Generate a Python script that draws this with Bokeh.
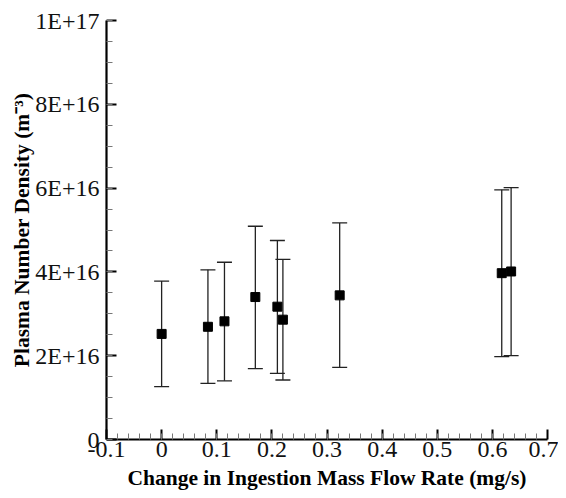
from bokeh.plotting import figure
from bokeh.models import ColumnDataSource, Whisker, TeeHead, Range1d, FixedTicker
from bokeh.embed import file_html
from bokeh.resources import INLINE

# data (flow rate change mg/s, density m^-3)
flow = [0.000, 0.084, 0.114, 0.170, 0.210, 0.220, 0.323, 0.617, 0.634]
density = [2.52e16, 2.69e16, 2.82e16, 3.40e16, 3.17e16, 2.86e16, 3.44e16, 3.97e16, 4.01e16]
upper = [3.78e16, 4.05e16, 4.23e16, 5.09e16, 4.75e16, 4.30e16, 5.17e16, 5.96e16, 6.01e16]
lower = [1.26e16, 1.34e16, 1.40e16, 1.69e16, 1.58e16, 1.42e16, 1.72e16, 1.98e16, 2.00e16]

x_ticks = [-0.1, 0, 0.1, 0.2, 0.3, 0.4, 0.5, 0.6, 0.7]
x_labels = ["-0.1", "0", "0.1", "0.2", "0.3", "0.4", "0.5", "0.6", "0.7"]
y_ticks = [0, 2e16, 4e16, 6e16, 8e16, 1e17]
y_labels = ["0", "2E+16", "4E+16", "6E+16", "8E+16", "1E+17"]

src = ColumnDataSource(dict(x=flow, y=density, upper=upper, lower=lower))

p = figure(width=558, height=497, output_backend="svg", toolbar_location=None,
           x_range=Range1d(-0.1, 0.7), y_range=Range1d(0, 1e17),
           min_border_left=106, min_border_right=11, min_border_top=20, min_border_bottom=58)
p.outline_line_color = None
p.xgrid.visible = False
p.ygrid.visible = False

head_u = TeeHead(size=15, line_color="#222222", line_width=1.3)
head_l = TeeHead(size=15, line_color="#222222", line_width=1.3)
p.add_layout(Whisker(base="x", upper="upper", lower="lower", source=src,
                     line_color="#222222", line_width=1.3,
                     upper_head=head_u, lower_head=head_l))
p.scatter("x", "y", source=src, marker="square", size=9, color="black")

font = "Liberation Serif"
for ax in (p.xaxis[0], p.yaxis[0]):
    ax.axis_line_width = 2.2
    ax.axis_line_color = "black"
    ax.major_tick_in = 10
    ax.major_tick_out = 0
    ax.major_tick_line_width = 2
    ax.minor_tick_in = 6
    ax.minor_tick_out = 0
    ax.minor_tick_line_color = "#777777"
    ax.minor_tick_line_width = 1
    ax.major_label_text_font = font
    ax.major_label_text_font_size = "24px"
    ax.major_label_text_color = "#111111"
    ax.axis_label_text_font = font
    ax.axis_label_text_font_style = "bold"
    ax.axis_label_text_font_size = "21.5px"
    ax.axis_label_text_color = "black"

p.xaxis.ticker = FixedTicker(ticks=x_ticks, minor_ticks=[-0.1 + i * 0.02 for i in range(41)])
p.xaxis.major_label_overrides = dict(zip(x_ticks, x_labels))
p.yaxis.ticker = FixedTicker(ticks=y_ticks, minor_ticks=[i * 0.5e16 for i in range(21)])
p.yaxis.major_label_overrides = dict(zip(y_ticks, y_labels))
p.xaxis.major_label_standoff = 2
p.yaxis.major_label_standoff = 7
p.xaxis.axis_label = "Change in Ingestion Mass Flow Rate (mg/s)"
p.yaxis.axis_label = "Plasma Number Density (m⁻³)"
p.xaxis.axis_label_standoff = 6
p.yaxis.axis_label_standoff = -2

open("out.html", "w").write(file_html(p, INLINE))
